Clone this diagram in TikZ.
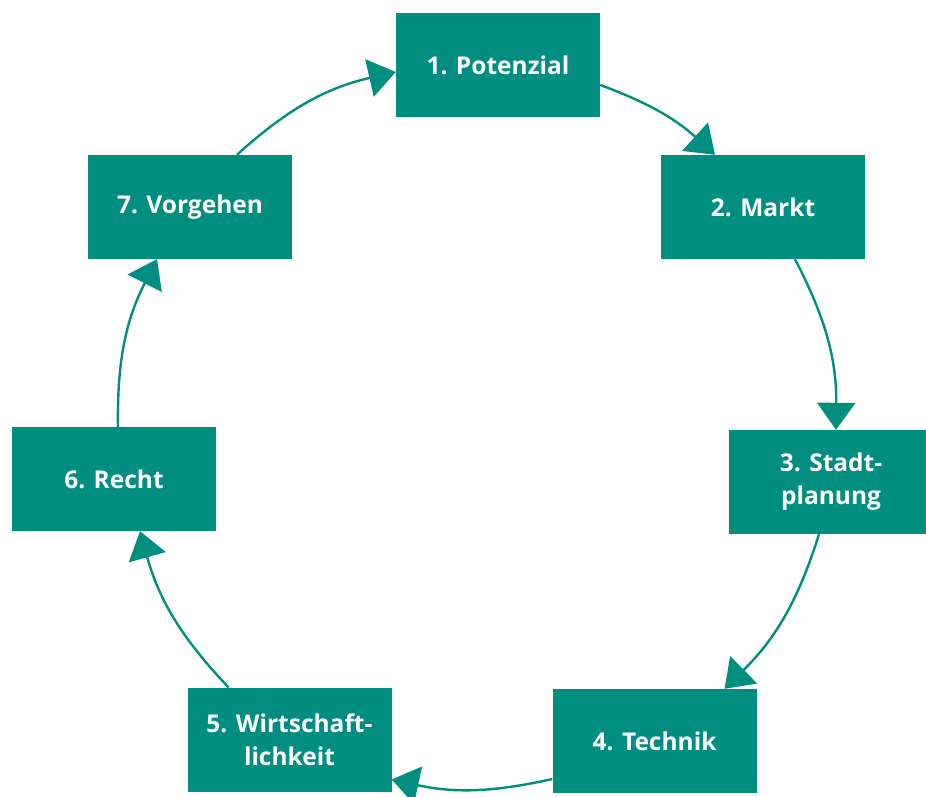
\documentclass[tikz,border=0pt]{standalone}
\usepackage{fontspec}
\setmainfont{Open Sans}
\usetikzlibrary{arrows.meta,calc}
\definecolor{teal1}{RGB}{0,142,128}
\begin{document}
\begin{tikzpicture}[x=1pt,y=1pt,
  stepbox/.style={draw=none,fill=teal1,text=white,minimum width=204pt,minimum height=104pt,inner sep=0pt,align=center,font=\fontsize{24.5}{33}\selectfont\bfseries},
  conn/.style={draw=teal1,line width=2.4pt,-{Triangle[width=38pt,length=27pt]}}]
\useasboundingbox (0,0) rectangle (926,-797);
\node[stepbox] (p1) at (498,-65) {1. Potenzial};
\node[stepbox] (p2) at (763,-207) {2. Markt};
\node[stepbox] (p3) at (831,-482) {3. Stadt-\\planung};
\node[stepbox] (p4) at (654.5,-741) {4. Technik};
\node[stepbox] (p5) at (289.5,-739.5) {5. Wirtschaft-\\lichkeit};
\node[stepbox] (p6) at (114,-479) {6. Recht};
\node[stepbox] (p7) at (190,-207) {7. Vorgehen};
\draw[conn] ($(p1.east)+(0,-20)$) to[bend left=11] ($(p2.north)+(-48,0)$);
\draw[conn] ($(p2.south)+(32,0)$) to[bend left=14] ($(p3.north)+(5,0)$);
\draw[conn] ($(p3.south)+(-12,0)$) to[bend left=14] ($(p4.north)+(70,0)$);
\draw[conn] ($(p4.west)+(0,-38)$) to[bend left=12.5] ($(p5.east)+(0,-40)$);
\draw[conn] ($(p5.north)+(-61,0)$) to[bend left=14] ($(p6.south)+(26,0)$);
\draw[conn] ($(p6.north)+(4,0)$) to[bend left=14] ($(p7.south)+(-33,0)$);
\draw[conn] ($(p7.north)+(47,0)$) to[bend left=14.7] ($(p1.west)+(0,-7)$);
\end{tikzpicture}
\end{document}
